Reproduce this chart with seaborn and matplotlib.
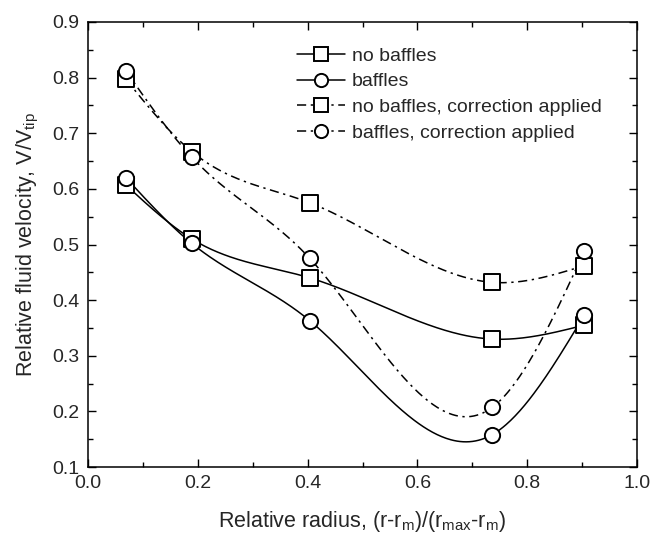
import numpy as np
import pandas as pd
import matplotlib
matplotlib.use("Agg")
import matplotlib.pyplot as plt
from matplotlib.ticker import MultipleLocator, FormatStrFormatter
from matplotlib.lines import Line2D
import seaborn as sns

# Relative radius positions of the measurement points
radius = [0.069, 0.189, 0.404, 0.736, 0.904]

# Relative fluid velocity for each configuration
no_baffles = [0.607, 0.510, 0.440, 0.330, 0.355]
baffles = [0.620, 0.502, 0.363, 0.158, 0.373]
no_baffles_corr = [0.797, 0.667, 0.575, 0.432, 0.462]
baffles_corr = [0.812, 0.657, 0.475, 0.207, 0.488]

series_names = [
    "no baffles",
    "baffles",
    "no baffles, correction applied",
    "baffles, correction applied",
]
series_values = [no_baffles, baffles, no_baffles_corr, baffles_corr]
series_markers = ["s", "o", "s", "o"]
dashdot = (0, (6, 3, 1.5, 3))
series_dashes = ["-", "-", dashdot, dashdot]


def natural_spline(x, y, n=300):
    """Natural cubic spline through the given points."""
    x = np.asarray(x, float)
    y = np.asarray(y, float)
    k = len(x)
    h = np.diff(x)
    A = np.zeros((k, k))
    b = np.zeros(k)
    A[0, 0] = A[-1, -1] = 1.0
    for i in range(1, k - 1):
        A[i, i - 1] = h[i - 1]
        A[i, i] = 2 * (h[i - 1] + h[i])
        A[i, i + 1] = h[i]
        b[i] = 3 * ((y[i + 1] - y[i]) / h[i] - (y[i] - y[i - 1]) / h[i - 1])
    c = np.linalg.solve(A, b)
    xs = np.linspace(x[0], x[-1], n)
    ys = np.empty_like(xs)
    for j, xv in enumerate(xs):
        i = min(np.searchsorted(x, xv, side="right") - 1, k - 2)
        dx = xv - x[i]
        bi = (y[i + 1] - y[i]) / h[i] - h[i] * (2 * c[i] + c[i + 1]) / 3
        di = (c[i + 1] - c[i]) / (3 * h[i])
        ys[j] = y[i] + bi * dx + c[i] * dx ** 2 + di * dx ** 3
    return xs, ys


sns.set_theme(style="ticks")
plt.rcParams["font.family"] = ["Liberation Sans", "DejaVu Sans"]
plt.rcParams["mathtext.default"] = "regular"

fig = plt.figure(figsize=(6.65, 5.4), dpi=100)
ax = fig.add_axes([88 / 665, (540 - 467) / 540, 549 / 665, 445 / 540])

pts = pd.DataFrame({
    "radius": np.tile(radius, len(series_names)),
    "velocity": np.concatenate(series_values),
    "series": np.repeat(series_names, len(radius)),
})

handles = []
for name, vals, mk, ls in zip(series_names, series_values, series_markers, series_dashes):
    xs, ys = natural_spline(radius, vals)
    curve = pd.DataFrame({"radius": xs, "velocity": ys})
    sns.lineplot(data=curve, x="radius", y="velocity", ax=ax, color="black",
                 linewidth=1.1, linestyle=ls, sort=False, estimator=None)
    sub = pts[pts["series"] == name]
    sns.scatterplot(data=sub, x="radius", y="velocity", ax=ax, marker=mk,
                    s=120, facecolor="white", edgecolor="black", linewidth=1.4,
                    zorder=5)
    handles.append(Line2D([], [], color="black", linewidth=1.1, linestyle=ls,
                          marker=mk, markersize=9.5, markerfacecolor="white",
                          markeredgecolor="black", markeredgewidth=1.4))

ax.set_xlim(0.0, 1.0)
ax.set_ylim(0.1, 0.9)
ax.xaxis.set_major_locator(MultipleLocator(0.2))
ax.xaxis.set_minor_locator(MultipleLocator(0.1))
ax.yaxis.set_major_locator(MultipleLocator(0.1))
ax.yaxis.set_minor_locator(MultipleLocator(0.05))
ax.xaxis.set_major_formatter(FormatStrFormatter("%.1f"))
ax.yaxis.set_major_formatter(FormatStrFormatter("%.1f"))
ax.tick_params(which="both", direction="in", top=True, right=True,
               labelsize=14, color="black", width=1.0)
ax.tick_params(which="major", length=6, pad=6)
ax.tick_params(which="minor", length=3.5)
for sp in ax.spines.values():
    sp.set_linewidth(1.1)
    sp.set_color("black")

ax.set_xlabel("Relative radius, (r-r$_{m}$)/(r$_{max}$-r$_{m}$)", fontsize=15.5, labelpad=12)
ax.set_ylabel("Relative fluid velocity, V/V$_{tip}$", fontsize=15.5, labelpad=8)

ax.legend(handles, series_names, loc="upper left", bbox_to_anchor=(0.38, 0.944),
          frameon=False, fontsize=14, handlelength=2.5, handletextpad=0.35,
          labelspacing=0.42, borderpad=0.0, borderaxespad=0.0)

fig.savefig("out.png", dpi=100)
